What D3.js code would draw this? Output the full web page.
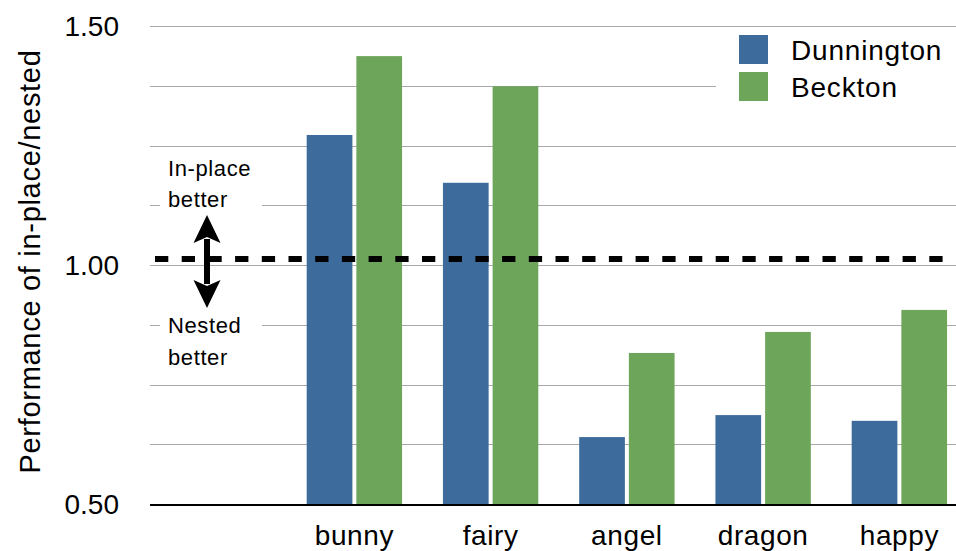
<!DOCTYPE html>
<html>
<head>
<meta charset="utf-8">
<script src="https://cdn.jsdelivr.net/npm/d3@7"></script>
<style>
  html, body { margin: 0; padding: 0; background: #fff; }
  svg { display: block; font-family: "Liberation Sans", Arial, sans-serif; }
</style>
</head>
<body>
<div id="chart"></div>
<script>
// data
const categories = ["", "bunny", "fairy", "angel", "dragon", "happy"];
const seriesNames = ["Dunnington", "Beckton"];
const dunnington = [null, 1.272, 1.172, 0.640, 0.686, 0.674];
const beckton = [null, 1.437, 1.374, 0.816, 0.860, 0.906];
const yTicks = [0.5, 1.0, 1.5];
const gridTicks = [0.625, 0.75, 0.875, 1.0, 1.125, 1.25, 1.375, 1.5];
const refValue = 1.0125;

const width = 956, height = 551;
const colors = d3.scaleOrdinal().domain(seriesNames).range(["#3d6c9c", "#6da55a"]);

const svg = d3.select("#chart").append("svg")
    .attr("width", width)
    .attr("height", height);

const y = d3.scaleLinear().domain([0.5, 1.5]).range([504, 26]);

const x0 = d3.scaleBand()
    .domain(categories)
    .range([150, 967.5])
    .paddingInner(0.3)
    .paddingOuter(0.15);

const x1 = d3.scaleBand()
    .domain(seriesNames)
    .range([0, x0.bandwidth()])
    .paddingInner(0.08);

// gridlines
svg.append("g").selectAll("line")
    .data(gridTicks)
    .enter().append("line")
    .attr("x1", 150).attr("x2", width)
    .attr("y1", d => Math.round(y(d)) + 0.5)
    .attr("y2", d => Math.round(y(d)) + 0.5)
    .attr("stroke", "#a9a9a9")
    .attr("stroke-width", 1);

// bars
const rows = categories.map((c, i) => ({ cat: c, Dunnington: dunnington[i], Beckton: beckton[i] }));

svg.append("g").selectAll("g")
    .data(rows.filter(d => d.Dunnington !== null))
    .enter().append("g")
    .attr("transform", d => `translate(${x0(d.cat)},0)`)
    .selectAll("rect")
    .data(d => seriesNames.map(k => ({ key: k, value: d[k] })))
    .enter().append("rect")
    .attr("x", d => x1(d.key))
    .attr("width", x1.bandwidth())
    .attr("y", d => y(d.value))
    .attr("height", d => y(0.5) - y(d.value))
    .attr("fill", d => colors(d.key));

// x axis line
svg.append("line")
    .attr("x1", 150).attr("x2", width)
    .attr("y1", y(0.5) + 1).attr("y2", y(0.5) + 1)
    .attr("stroke", "#000")
    .attr("stroke-width", 2);

// x labels
svg.append("g").selectAll("text")
    .data(categories)
    .enter().append("text")
    .attr("x", d => x0(d) + x0.bandwidth() / 2)
    .attr("y", 545)
    .attr("text-anchor", "middle")
    .style("font-size", "28px")
    .style("letter-spacing", "0.6px")
    .text(d => d);

// y tick labels
svg.append("g").selectAll("text")
    .data(yTicks)
    .enter().append("text")
    .attr("x", 119)
    .attr("y", d => y(d))
    .attr("dy", "0.36em")
    .attr("text-anchor", "end")
    .style("font-size", "28px")
    .text(d => d3.format(".2f")(d));

// y title
svg.append("text")
    .attr("transform", "translate(40, 261.5) rotate(-90)")
    .attr("text-anchor", "middle")
    .style("font-size", "29px")
    .style("letter-spacing", "0.7px")
    .text("Performance of in-place/nested");

// annotation backgrounds (break the gridlines)
svg.append("rect").attr("x", 160).attr("y", 155).attr("width", 102).attr("height", 58).attr("fill", "#fff");
svg.append("rect").attr("x", 160).attr("y", 312).attr("width", 102).attr("height", 60).attr("fill", "#fff");

const notes = [
    { t: "In-place", yy: 176 },
    { t: "better", yy: 207 },
    { t: "Nested", yy: 333 },
    { t: "better", yy: 365 }
];
svg.append("g").selectAll("text")
    .data(notes)
    .enter().append("text")
    .attr("x", 168)
    .attr("y", d => d.yy)
    .style("font-size", "22px")
    .style("letter-spacing", "0.6px")
    .text(d => d.t);

// reference dashed line
svg.append("line")
    .attr("x1", 155).attr("x2", width)
    .attr("y1", y(refValue)).attr("y2", y(refValue))
    .attr("stroke", "#000")
    .attr("stroke-width", 6)
    .attr("stroke-dasharray", "13.3,13.4");

// double arrow
const ax = 207, arrTop = y(1.1046), arrBot = y(0.91), hw = 13.5, hh = 28;
svg.append("line")
    .attr("x1", ax).attr("x2", ax)
    .attr("y1", arrTop + hh - 4).attr("y2", arrBot - hh + 4)
    .attr("stroke", "#000").attr("stroke-width", 6);
svg.append("path")
    .attr("d", `M${ax},${arrTop} L${ax + hw},${arrTop + hh} L${ax},${arrTop + hh - 6} L${ax - hw},${arrTop + hh} Z`)
    .attr("fill", "#000");
svg.append("path")
    .attr("d", `M${ax},${arrBot} L${ax + hw},${arrBot - hh} L${ax},${arrBot - hh + 6} L${ax - hw},${arrBot - hh} Z`)
    .attr("fill", "#000");

// legend
const legend = svg.append("g");
legend.append("rect").attr("x", 716).attr("y", 30).attr("width", 240).attr("height", 80).attr("fill", "#fff");
const li = legend.selectAll("g")
    .data(seriesNames)
    .enter().append("g")
    .attr("transform", (d, i) => `translate(739, ${35 + i * 37})`);
li.append("rect")
    .attr("width", 29).attr("height", 29)
    .attr("fill", d => colors(d));
li.append("text")
    .attr("x", 52)
    .attr("y", 15)
    .attr("dy", "0.36em")
    .style("font-size", "28px")
    .style("letter-spacing", "0.8px")
    .text(d => d);
</script>
</body>
</html>
